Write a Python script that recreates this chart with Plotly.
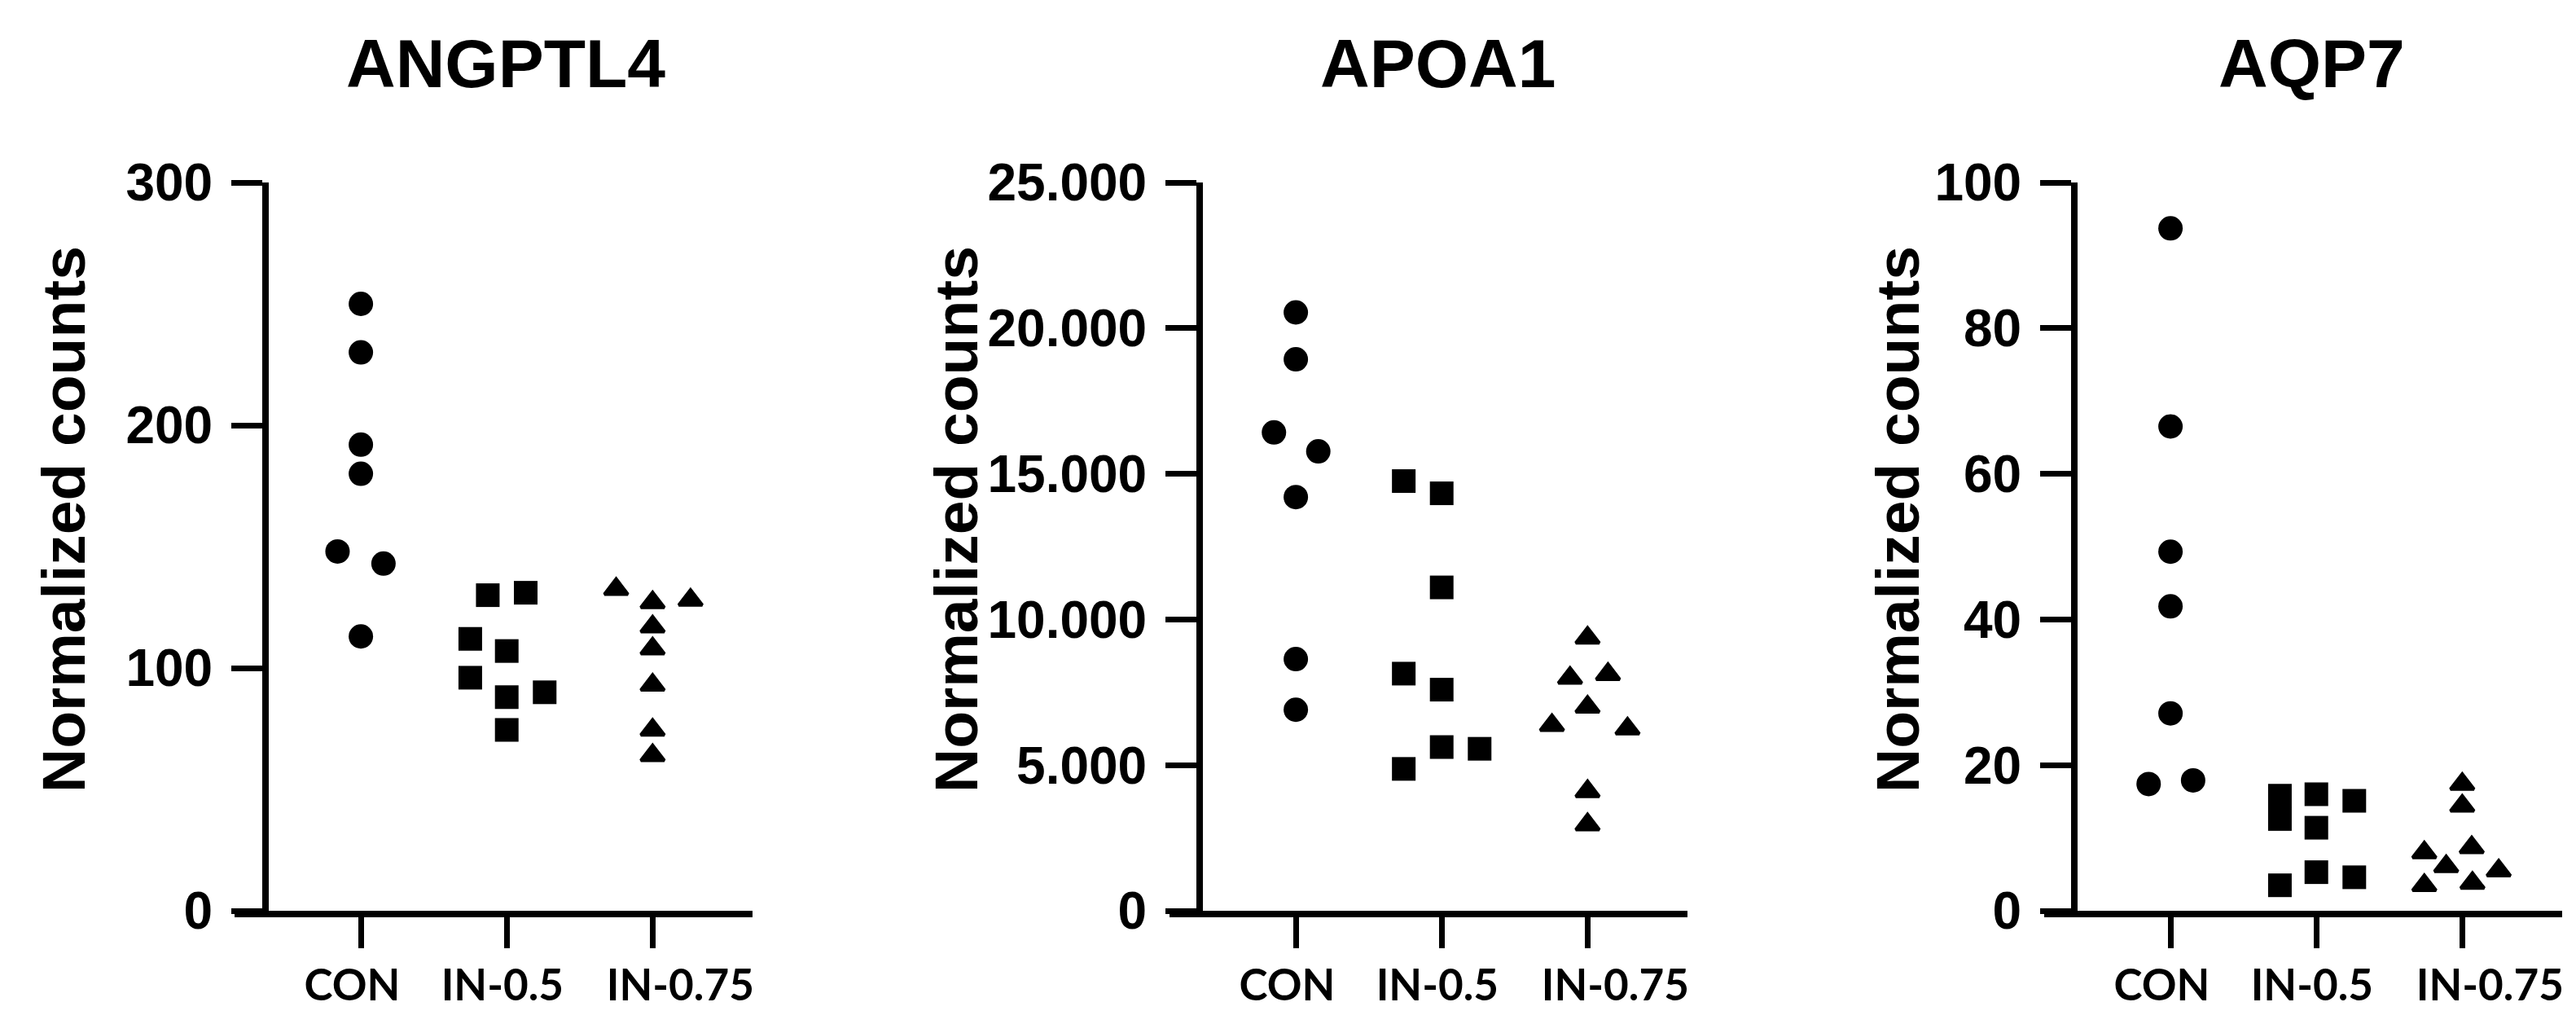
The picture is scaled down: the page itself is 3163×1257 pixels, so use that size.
import plotly.graph_objects as go

# ── Data ───────────────────────────────────────────────────────────────────

groups = ["CON", "IN-0.5", "IN-0.75"]

# ANGPTL4
angptl4_con = [250, 230, 192, 180, 148, 143, 113]
angptl4_in05 = [130, 131, 112, 107, 96, 88, 90, 74.5]
angptl4_in075 = [132.5, 127, 128, 117, 108, 93, 74.5, 64]
# horizontal scatter of the dots around each group (category units)
angptl4_con_dx = [0, 0, 0, 0, -0.16, 0.155, 0]
angptl4_in05_dx = [-0.13, 0.13, -0.25, 0, -0.25, 0, 0.26, 0]
angptl4_in075_dx = [-0.25, 0, 0.26, 0, 0, 0, 0, 0]
angptl4_ticks = [0, 100, 200, 300]
angptl4_ticktext = ["0", "100", "200", "300"]

# APOA1
apoa1_con = [20540, 18930, 16420, 15770, 14200, 8640, 6900]
apoa1_in05 = [14750, 14330, 11100, 8140, 7590, 4870, 5620, 5560]
apoa1_in075 = [9370, 7990, 8120, 7000, 6370, 6250, 4100, 2960]
apoa1_con_dx = [0, 0, -0.15, 0.154, 0, 0, 0]
apoa1_in05_dx = [-0.26, 0, 0, -0.26, 0, -0.26, 0, 0.26]
apoa1_in075_dx = [0, -0.12, 0.14, 0, -0.244, 0.274, 0, 0]
apoa1_ticks = [0, 5000, 10000, 15000, 20000, 25000]
apoa1_ticktext = ["0", "5.000", "10.000", "15.000", "20.000", "25.000"]

# AQP7
aqp7_con = [93.7, 66.5, 49.3, 41.8, 27.1, 17.4, 17.9]
aqp7_in05 = [15.8, 16.0, 15.1, 12.6, 11.4, 3.5, 5.3, 4.6]
aqp7_in075 = [17.4, 14.4, 8.0, 8.7, 6.1, 5.5, 3.5, 3.8]
aqp7_con_dx = [0, 0, 0, 0, 0, -0.15, 0.155]
aqp7_in05_dx = [-0.25, 0, 0.26, -0.25, 0, -0.25, 0, 0.26]
aqp7_in075_dx = [0, 0, -0.26, 0.065, -0.11, 0.25, -0.26, 0.07]
aqp7_ticks = [0, 20, 40, 60, 80, 100]
aqp7_ticktext = ["0", "20", "40", "60", "80", "100"]

panels = [
    dict(title="ANGPTL4", series=[(angptl4_con, angptl4_con_dx),
                                  (angptl4_in05, angptl4_in05_dx),
                                  (angptl4_in075, angptl4_in075_dx)],
         ticks=angptl4_ticks, ticktext=angptl4_ticktext),
    dict(title="APOA1", series=[(apoa1_con, apoa1_con_dx),
                                (apoa1_in05, apoa1_in05_dx),
                                (apoa1_in075, apoa1_in075_dx)],
         ticks=apoa1_ticks, ticktext=apoa1_ticktext),
    dict(title="AQP7", series=[(aqp7_con, aqp7_con_dx),
                               (aqp7_in05, aqp7_in05_dx),
                               (aqp7_in075, aqp7_in075_dx)],
         ticks=aqp7_ticks, ticktext=aqp7_ticktext),
]

# ── Layout geometry (pixels of the 3163x1257 page) ─────────────────────────

W, H = 3163, 1257
X_DOMAINS = [(280, 916), (1428, 2064), (2502, 3138)]
Y_LINE_X = [318, 1465, 2539]
Y_TOP, Y_BOT = 216, 1110
TITLE_X = [613, 1757, 2830]
TITLE_Y = 70
YTITLE_X = [70, 1166, 2322]
YTITLE_Y = [630, 630, 630]
# the group labels sit slightly off their tick marks in the original
LABEL_SHIFT = [-0.06, -0.03, 0.19]

ARIAL = "Liberation Sans, Arial, sans-serif"
CAT_FONT = "Lato, Open Sans, sans-serif"

SYMBOLS = ["circle", "square", "triangle-up"]
SIZES = [30, 29, 25]

fig = go.Figure()
annotations = []

for i, p in enumerate(panels):
    n = "" if i == 0 else str(i + 1)
    for g, ((vals, dx), sym, sz) in enumerate(zip(p["series"], SYMBOLS, SIZES)):
        fig.add_trace(go.Scatter(
            x=[g + d for d in dx], y=vals,
            mode="markers",
            marker=dict(symbol=sym, size=sz, color="black",
                        line=dict(color="black", width=4 if sym == "triangle-up" else 0)),
            xaxis="x" + n, yaxis="y" + n,
            showlegend=False, cliponaxis=False,
        ))

    x0, x1 = X_DOMAINS[i]
    fig.update_layout(**{
        "xaxis" + n: dict(
            domain=[x0 / W, x1 / W], range=[-0.866, 2.685],
            anchor="y" + n, automargin=False,
            showline=True, linewidth=8, linecolor="black",
            # labels (invisible major ticks) + visible tick marks on the groups
            ticks="outside", ticklen=38, tickwidth=7, tickcolor="rgba(0,0,0,0)",
            tickvals=[g + s for g, s in zip(range(len(groups)), LABEL_SHIFT)],
            ticktext=groups,
            minor=dict(tickmode="array", tickvals=list(range(len(groups))),
                       ticks="outside", ticklen=38, tickwidth=7, tickcolor="black",
                       showgrid=False),
            tickfont=dict(family=CAT_FONT, size=53, color="black", weight="bold"),
            showgrid=False, zeroline=False, fixedrange=True,
        ),
        "yaxis" + n: dict(
            domain=[(H - Y_BOT) / H, (H - Y_TOP) / H],
            range=[0, p["ticks"][-1]],
            anchor="free", position=Y_LINE_X[i] / W, automargin=False,
            showline=True, linewidth=8, linecolor="black",
            ticks="outside", ticklen=38, tickwidth=7, tickcolor="black",
            tickvals=p["ticks"], ticktext=p["ticktext"],
            ticklabelstandoff=10,
            tickfont=dict(family=ARIAL, size=64, color="black", weight="bold"),
            showgrid=False, zeroline=False, fixedrange=True,
        ),
    })

    annotations.append(dict(
        text=p["title"], x=TITLE_X[i] / W, y=1 - TITLE_Y / H,
        xref="paper", yref="paper", xanchor="center", yanchor="middle",
        showarrow=False,
        font=dict(family=ARIAL, size=84, color="black", weight="bold"),
    ))
    annotations.append(dict(
        text="Normalized counts", x=YTITLE_X[i] / W, y=1 - YTITLE_Y[i] / H,
        xref="paper", yref="paper", xanchor="center", yanchor="middle",
        textangle=-90, showarrow=False,
        font=dict(family=ARIAL, size=75, color="black", weight="bold"),
    ))

fig.update_layout(
    width=W, height=H,
    margin=dict(l=0, r=0, t=0, b=0, autoexpand=False),
    paper_bgcolor="white", plot_bgcolor="white",
    annotations=annotations,
)

fig.write_html("out.html")
